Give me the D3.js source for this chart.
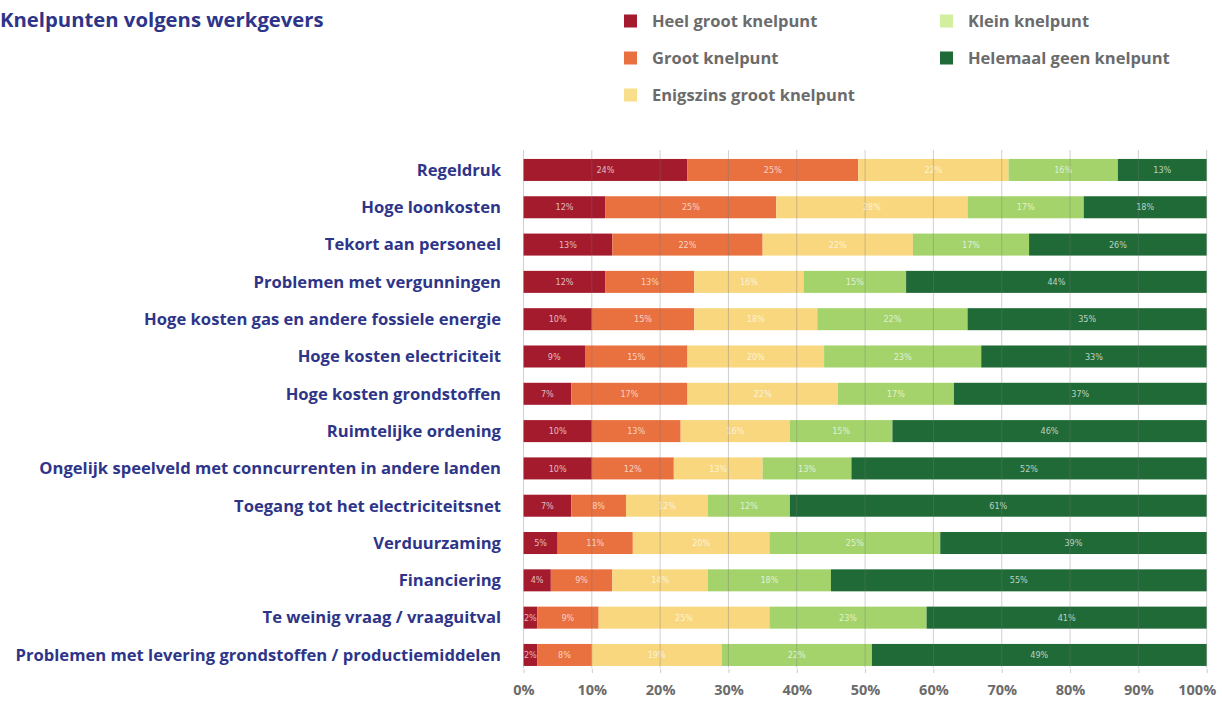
<!DOCTYPE html>
<html><head><meta charset="utf-8">
<script src="https://cdn.jsdelivr.net/npm/d3@7"></script>
<style>body{margin:0;background:#fff}svg{display:block}</style>
</head><body>
<svg id="c" width="1222" height="703"></svg>
<script>
const categories = ["Regeldruk","Hoge loonkosten","Tekort aan personeel","Problemen met vergunningen","Hoge kosten gas en andere fossiele energie","Hoge kosten electriciteit","Hoge kosten grondstoffen","Ruimtelijke ordening","Ongelijk speelveld met conncurrenten in andere landen","Toegang tot het electriciteitsnet","Verduurzaming","Financiering","Te weinig vraag / vraaguitval","Problemen met levering grondstoffen / productiemiddelen"];
const seriesNames = ["Heel groot knelpunt","Groot knelpunt","Enigszins groot knelpunt","Klein knelpunt","Helemaal geen knelpunt"];
const heelGroot   = [24,12,13,12,10,9,7,10,10,7,5,4,2,2];
const groot       = [25,25,22,13,15,15,17,13,12,8,11,9,9,8];
const enigszins   = [22,28,22,16,18,20,22,16,13,12,20,14,25,19];
const klein       = [16,17,17,15,22,23,17,15,13,12,25,18,23,22];
const geen        = [13,18,26,44,35,33,37,46,52,61,39,55,41,49];
const xTicks = [0,10,20,30,40,50,60,70,80,90,100];
const barColors = ["#a31b2d","#e9703f","#f8d77f","#a3d36a","#1f6a36"];
const legendColors = ["#a31b2d","#e9703f","#f9df8c","#d2ee9f","#1f6a36"];

const svg = d3.select("#c");
const values = [heelGroot, groot, enigszins, klein, geen];
const rows = categories.map((c,i)=>{const o={cat:c}; seriesNames.forEach((s,k)=>o[s]=values[k][i]); return o;});
const stack = d3.stack().keys(seriesNames)(rows);

const x = d3.scaleLinear().domain([0,100]).range([523.5,1206.7]);
const y = d3.scaleBand().domain(categories).range([151.3,673.6]).paddingInner(0.41).paddingOuter(0.205);

// title
svg.append("text").attr("x",0).attr("y",27).text("Knelpunten volgens werkgevers")
  .attr("font-family","Open Sans").attr("font-weight","700").attr("font-size",20.3).attr("fill","#2e3589");

// legend
const legPos = [[624,21],[624,58],[624,95],[940,21],[940,58]];
seriesNames.forEach((s,k)=>{
  const g = svg.append("g").attr("transform",`translate(${legPos[k][0]},${legPos[k][1]})`);
  g.append("rect").attr("x",0).attr("y",-6.5).attr("width",13).attr("height",13).attr("fill",legendColors[k]);
  g.append("text").attr("x",28).attr("y",0).attr("dy","0.35em").text(s)
   .attr("font-family","Open Sans").attr("font-weight","700").attr("font-size",16.5).attr("fill","#6b6b6b");
});

// bars
const layer = svg.append("g").selectAll("g").data(stack).join("g").attr("fill",(d,i)=>barColors[i]);
layer.selectAll("rect").data(d=>d).join("rect")
  .attr("x",d=>x(d[0])).attr("width",d=>x(d[1])-x(d[0]))
  .attr("y",d=>y(d.data.cat)).attr("height",y.bandwidth());

// value labels
const lab = svg.append("g").selectAll("g").data(stack).join("g");
lab.selectAll("text").data(d=>d.map(v=>({v, val:v[1]-v[0]}))).join("text")
  .attr("x",d=>(x(d.v[0])+x(d.v[1]))/2).attr("y",d=>y(d.v.data.cat)+y.bandwidth()/2)
  .attr("dy","0.35em").attr("text-anchor","middle")
  .attr("font-family","DejaVu Sans Condensed, Liberation Sans Narrow, sans-serif").attr("font-size",9)
  .attr("fill","#fff").attr("fill-opacity",0.7)
  .text(d=>d.val+"%");

// gridlines on top
svg.append("g").selectAll("line").data(xTicks).join("line")
  .attr("x1",d=>x(d)).attr("x2",d=>x(d)).attr("y1",150).attr("y2",668)
  .attr("stroke","#777").attr("stroke-opacity",0.35).attr("stroke-width",1);

// axis
const axis = d3.axisBottom(x).tickValues(xTicks).tickSize(4).tickFormat(d=>d+"%");
const ag = svg.append("g").attr("transform","translate(0,669)").call(axis);
ag.select(".domain").remove();
ag.selectAll("line").attr("stroke","#ccc");
ag.selectAll("text").attr("y",16).attr("font-family","Open Sans").attr("font-weight","700")
  .attr("font-size",14.5).attr("fill","#6b6b6b");
ag.selectAll("text").filter(d=>d===100).attr("text-anchor","end").attr("dx",9);

// category labels
svg.append("g").selectAll("text").data(categories).join("text")
  .attr("x",501).attr("y",d=>y(d)+y.bandwidth()/2).attr("dy","0.35em").attr("text-anchor","end")
  .attr("font-family","Open Sans").attr("font-weight","700").attr("font-size",16.6).attr("fill","#2e3589")
  .text(d=>d);
</script>
</body></html>
